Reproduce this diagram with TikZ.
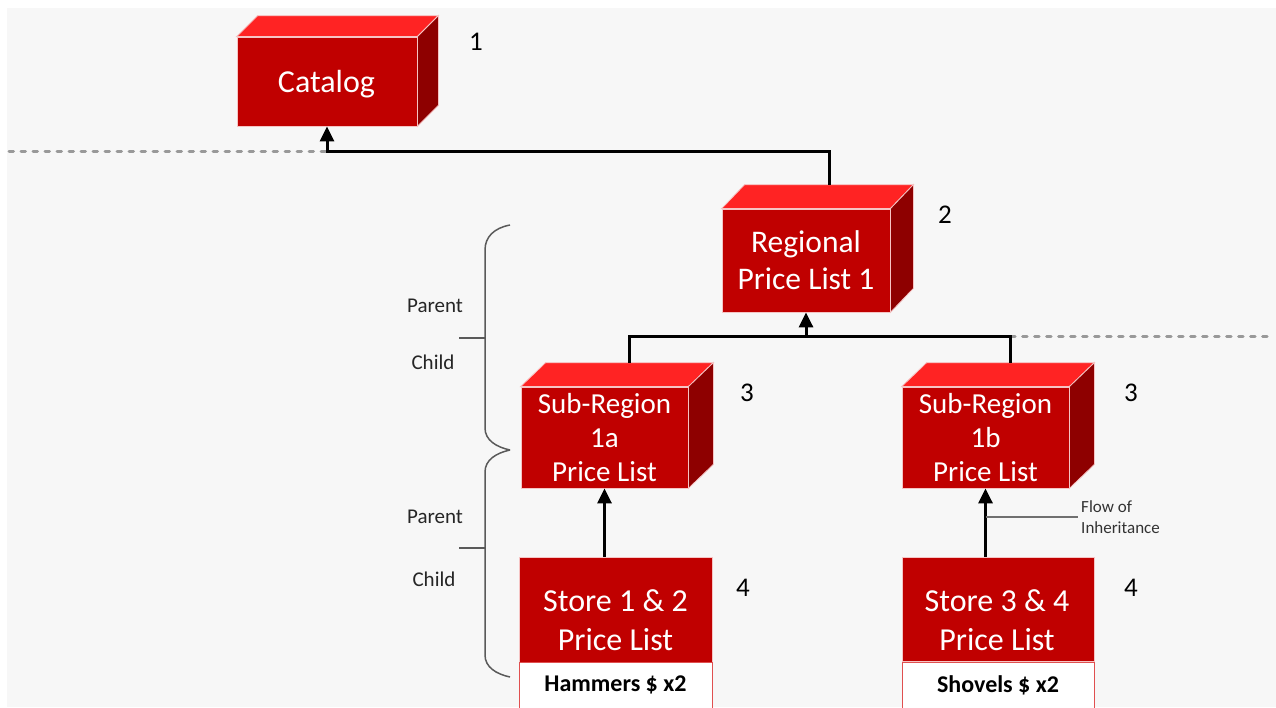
\documentclass[tikz,border=0pt]{standalone}
\usepackage{fontspec}
\setmainfont{Carlito}
\usetikzlibrary{calc,arrows.meta}

\definecolor{bg}{HTML}{F7F7F7}
\definecolor{frontred}{HTML}{C00000}
\definecolor{topred}{HTML}{FF2323}
\definecolor{sidered}{HTML}{8E0000}
\definecolor{edge}{HTML}{F6C4C4}
\definecolor{whiteedge}{HTML}{E05050}
\definecolor{dashgray}{HTML}{999999}
\definecolor{bracegray}{HTML}{5A5A5A}
\definecolor{notegray}{HTML}{707070}

% top and right faces of a 3D box whose front face is node #1;
% #2/#3 = depth to the right / upwards; also defines (#1-top)
\newcommand\cuboidfaces[3]{%
  \filldraw[topred, draw=edge, line width=0.8pt]
    (#1.north west) -- ++(#2,-#3) -- ($(#1.north east)+(#2,-#3)$) -- (#1.north east) -- cycle;
  \filldraw[sidered, draw=edge, line width=0.8pt]
    (#1.north east) -- ++(#2,-#3) -- ($(#1.south east)+(#2,-#3)$) -- (#1.south east) -- cycle;
  \coordinate (#1-top) at ($(#1.north)+(#2,-#3)$);
}

\begin{document}
\begin{tikzpicture}[x=1pt,y=-1pt,
  redbox/.style={rectangle, fill=frontred, draw=edge, line width=0.8pt,
    text=white, align=center, inner sep=0pt},
  itembox/.style={rectangle, fill=white, draw=whiteedge, line width=0.8pt,
    text=black, inner sep=0pt, minimum width=193pt, minimum height=46pt,
    font=\fontsize{24}{28}\selectfont\bfseries},
  boxtext/.style={text=white, align=center, inner sep=0pt},
  conn/.style={line width=3pt, black},
  tip/.style={-{Triangle[length=15pt,width=14pt]}},
  sep/.style={dashgray, line width=3pt, line cap=round, dash pattern=on 4.5pt off 7.5pt},
  lvl/.style={font=\fontsize{27}{32}\selectfont, text=black},
  side/.style={font=\fontsize{21}{24}\selectfont, text=black!85},
  bracepath/.style={bracegray, line width=1.5pt}
]
\useasboundingbox (0,0) rectangle (1276,707);
\fill[white] (0,0) rectangle (1276,707);
\fill[bg] (7,8) rectangle (1276,707);

% level separators
\coordinate (bus1) at (0,151);
\coordinate (bus2) at (0,336);
\coordinate (lend) at (9,151);
\coordinate (rend) at (1273,336);

% braces with Parent / Child labels
\draw[bracepath] (510,225) .. controls (494,228) and (485,237) .. (485,250)
  -- (485,428) .. controls (485,440) and (496,447) .. (510,450);
\draw[bracepath] (510,450) .. controls (496,453) and (485,460) .. (485,472)
  -- (485,655) .. controls (485,667) and (496,674) .. (510,677);
\draw[bracepath] (459,338) -- (485,338);
\draw[bracepath] (459,548) -- (485,548);
\node[side] (p1) at (435,306) {Parent};
\node[side] (c1) at (433,362) {Child};
\node[side] (p2) at (435,517) {Parent};
\node[side] (c2) at (434,579) {Child};

% boxes
\node[redbox, minimum width=180pt, minimum height=89pt,
  font=\fontsize{32}{38}\selectfont] (cat) at (327,81.5) {};
\node[boxtext, font=\fontsize{32}{38}\selectfont] (catt) at (326.5,84) {Catalog};
\cuboidfaces{cat}{21}{21}

\node[redbox, minimum width=168pt, minimum height=103pt,
  font=\fontsize{31.5}{37}\selectfont] (reg) at (806,260.5) {Regional\\Price List 1};
\cuboidfaces{reg}{23}{24}

\node[redbox, minimum width=167pt, minimum height=101pt,
  font=\fontsize{29}{34}\selectfont] (s1a) at (604.5,437.5) {Sub-Region\\1a\\Price List};
\cuboidfaces{s1a}{25}{24}

\node[redbox, minimum width=167pt, minimum height=101pt,
  font=\fontsize{29}{34}\selectfont] (s1b) at (985.5,437.5) {Sub-Region\\1b\\Price List};
\cuboidfaces{s1b}{25}{24}

\node[redbox, minimum width=193pt, minimum height=105pt] (st1) at (615.5,609.5) {};
\node[boxtext, font=\fontsize{32}{39}\selectfont] (st1t) at (615.5,620) {Store 1 \& 2\\Price List};
\node[itembox] (ham) at (615.5,685) {Hammers \$ x2};

\node[redbox, minimum width=192pt, minimum height=104pt] (st2) at (998,609) {};
\node[boxtext, font=\fontsize{32}{39}\selectfont] (st2t) at (997,620) {Store 3 \& 4\\Price List};
\node[itembox, minimum width=192pt] (shv) at (998,685) {Shovels \$ x2};

% level numbers
\node[lvl] (n1) at (476,42) {1};
\node[lvl] (n2) at (945,215) {2};
\node[lvl] (n3a) at (747,393) {3};
\node[lvl] (n3b) at (1131,393) {3};
\node[lvl] (n4a) at (743,588) {4};
\node[lvl] (n4b) at (1131,588) {4};

% dashed separators
\draw[sep] (lend) -- (cat.south |- bus1);
\draw[sep] (s1b-top |- bus2) -- (rend);

% inheritance connectors
\draw[conn, tip] (reg-top) -- (reg-top |- bus1) -| (cat.south);
\draw[conn] (s1a-top) -- (s1a-top |- bus2) -- (s1b-top |- bus2) -- (s1b-top);
\draw[conn, tip] (reg.south |- bus2) -- (reg.south);
\draw[conn, tip] (s1a.south |- st1.north) -- (s1a.south);
\draw[conn, tip] (s1b.south |- st2.north) -- (s1b.south);

% note
\node[anchor=west, align=left, inner sep=3pt, text=black!80,
  font=\fontsize{17}{21}\selectfont] (flow) at (1078,517) {Flow of\\Inheritance};
\draw[notegray, line width=1.2pt] (s1b.south |- flow.west) -- (flow.west);
\end{tikzpicture}
\end{document}
